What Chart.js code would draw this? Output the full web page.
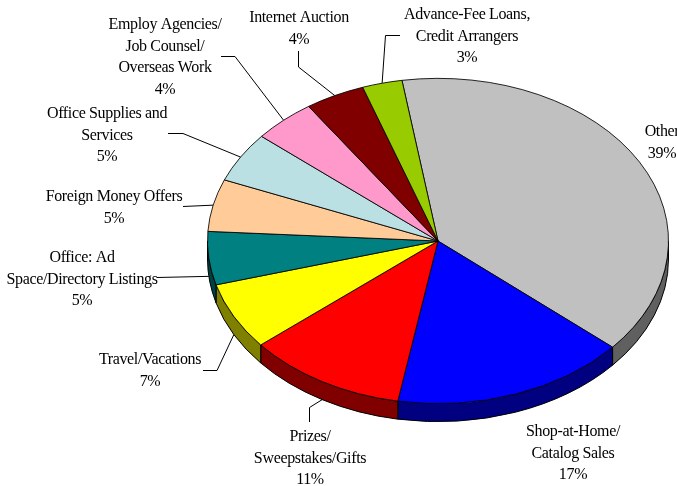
<!DOCTYPE html>
<html>
<head>
<meta charset="utf-8">
<style>
  html, body { margin: 0; padding: 0; background: #fff; overflow: hidden; }
  canvas { display: block; }
</style>
<script src="https://cdn.jsdelivr.net/npm/chart.js@4"></script>
</head>
<body>
<canvas id="fraudPie" width="677" height="486"></canvas>
<script>
// 1. DATA
const categories = [
  ['Other'],
  ['Shop-at-Home/', 'Catalog Sales'],
  ['Prizes/', 'Sweepstakes/Gifts'],
  ['Travel/Vacations'],
  ['Office: Ad', 'Space/Directory Listings'],
  ['Foreign Money Offers'],
  ['Office Supplies and', 'Services'],
  ['Employ Agencies/', 'Job Counsel/', 'Overseas Work'],
  ['Internet Auction'],
  ['Advance-Fee Loans,', 'Credit Arrangers']
];
// printed labels are rounded, slice sizes estimated from the picture
const shares = [38.9, 16.5, 11.2, 6.7, 5.3, 5.2, 5, 4.4, 4.2, 2.8];
const topColors = ['#C0C0C0', '#0000FF', '#FF0000', '#FFFF00', '#008080', '#FFCC99', '#BBE0E3', '#FF99CC', '#800000', '#99CC00'];
const wallColors = ['#606060', '#000080', '#800000', '#808000', '#004040', '#806650', '#5E7072', '#804D66', '#400000', '#4D6600'];

// 2. LAYOUT (label centre x, first baseline y, elbow points of the leader)
const labelX = [662, 573, 310, 150, 82, 114, 107, 165, 299, 467];
const labelY = [136, 436, 441, 364, 262, 201, 118, 29, 22, 19];
const leaders = [
  [],
  [],
  [[309.5, 407.5], [309.5, 422]],
  [[217, 370.5], [203, 370.5]],
  [[157, 277.5]],
  [[183, 206.5]],
  [[183, 133.5], [168, 133.5]],
  [[235, 56.5], [221, 56.5]],
  [[298.5, 67], [298.5, 51]],
  [[385.5, 35.5], [400, 35.5]]
];
const squash = 163 / 231;
const depth = 18;
const lineGap = 21.5;

// 3. PLUGIN: flattens the pie, adds the side wall, then labels and leaders
const tiltedPie = {
  id: 'tiltedPie',
  beforeDatasetDraw(chart) {
    const ctx = chart.ctx;
    const arcs = chart.getDatasetMeta(0).data;
    const cy = arcs[0].y;
    arcs.forEach((arc, i) => {
      const a1 = Math.max(arc.startAngle, 0);
      const a2 = Math.min(arc.endAngle, Math.PI);
      if (a2 <= a1) return;
      const rx = arc.outerRadius, ry = rx * squash;
      ctx.beginPath();
      ctx.ellipse(arc.x, cy, rx, ry, 0, a1, a2);
      ctx.ellipse(arc.x, cy + depth, rx, ry, 0, a2, a1, true);
      ctx.closePath();
      ctx.fillStyle = wallColors[i];
      ctx.fill();
      ctx.lineWidth = 1;
      ctx.strokeStyle = '#000';
      ctx.stroke();
    });
    ctx.save();
    ctx.translate(0, cy);
    ctx.scale(1, squash);
    ctx.translate(0, -cy);
  },
  afterDatasetDraw(chart) {
    chart.ctx.restore();
  },
  afterDraw(chart) {
    const ctx = chart.ctx;
    const arcs = chart.getDatasetMeta(0).data;
    ctx.save();
    ctx.strokeStyle = '#000';
    ctx.lineWidth = 1;
    arcs.forEach((arc, i) => {
      if (!leaders[i].length) return;
      const mid = (arc.startAngle + arc.endAngle) / 2;
      const sy = Math.sin(mid);
      const x0 = arc.x + Math.cos(mid) * arc.outerRadius;
      const y0 = arc.y + sy * arc.outerRadius * squash + (sy > 0 && mid < Math.PI ? depth : 0);
      ctx.beginPath();
      ctx.moveTo(x0, y0);
      leaders[i].forEach(p => ctx.lineTo(p[0], p[1]));
      ctx.stroke();
    });
    ctx.fillStyle = '#000';
    ctx.font = '16px "Liberation Serif"';
    ctx.letterSpacing = '-0.35px';
    ctx.textAlign = 'center';
    ctx.textBaseline = 'alphabetic';
    categories.forEach((lines, i) => {
      lines.concat(Math.round(shares[i]) + '%').forEach((line, n) => {
        ctx.fillText(line, labelX[i], labelY[i] + n * lineGap);
      });
    });
    ctx.restore();
  }
};

// 4. CHART
new Chart(document.getElementById('fraudPie'), {
  type: 'pie',
  data: {
    labels: categories.map(c => c.join(' ')),
    datasets: [{
      data: shares,
      backgroundColor: topColors,
      borderColor: '#000',
      borderWidth: 1
    }]
  },
  options: {
    responsive: false,
    animation: false,
    rotation: -9,
    layout: { padding: { left: 207, right: 8, top: 10, bottom: 14 } },
    plugins: { legend: { display: false }, tooltip: { enabled: false } }
  },
  plugins: [tiltedPie]
});
</script>
</body>
</html>
